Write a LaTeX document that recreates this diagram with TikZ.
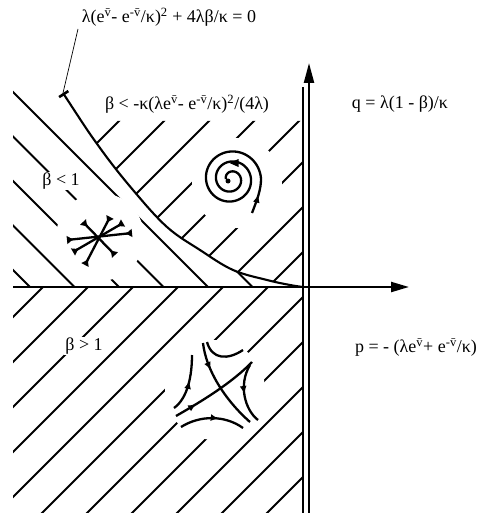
\documentclass[tikz,border=0pt]{standalone}
\usepackage{fontspec}
\setmainfont{Liberation Serif}
\usetikzlibrary{arrows.meta,decorations.markings}
\tikzset{
  hatch/.style={line width=2.1pt},
  axis/.style={line width=2.2pt},
  curvel/.style={line width=2.1pt},
  traj/.style={line width=2.3pt},
  lbl/.style={font=\fontsize{18}{20}\selectfont, inner sep=1pt},
  knock/.style={fill=white, draw=none},
  midarrow/.style={postaction={decorate},decoration={markings,mark=at position #1 with {\arrow{Latex[length=8pt,width=7pt]}}}},
}
\newcommand{\vb}{\textsuperscript{\=v}}
\newcommand{\mvb}{\textsuperscript{-\=v}}
\begin{document}
\begin{tikzpicture}[x=1pt,y=-1pt]
\useasboundingbox (0,0) rectangle (494,513);
\def\bcurve{(63,93) (100,148) (133,190) (167,227) (200,250) (233,270) (267,280) (290,285) (303,287)}
% ---- lower region hatching "/"
\begin{scope}
\clip (13,287) rectangle (303,513);
\foreach \d in {330,375,...,780}{
  \draw[hatch] (\d-600,600) -- (\d,0);
}
\end{scope}
% ---- upper right region hatching "/"
\begin{scope}
\clip (81,121) -- plot[smooth,tension=0.6] coordinates {(81,121) (100,148) (133,190) (167,227) (200,250) (233,270) (267,280) (290,285) (303,287)} -- (303,121) -- cycle;
\foreach \d in {240,285,...,600}{
  \draw[hatch] (\d-600,600) -- (\d,0);
}
\end{scope}
% ---- left region hatching "\"
\begin{scope}
\clip (13,90) -- (63,90) -- plot[smooth,tension=0.6] coordinates \bcurve -- (13,287) -- cycle;
\foreach \c in {79,123.5,168,212.5,257}{
  \draw[hatch] (0,\c) -- (400,400+\c);
}
\clip (225,250) rectangle (303,287);
\draw[hatch] (0,34.5) -- (400,434.5);
\end{scope}
% ---- knockouts
\fill[knock] (237,183) circle (45);
\fill[knock] (100,237) circle (44);
\fill[knock] (215,390) ellipse (50 and 50);
% ---- labels
\node[lbl] (top) at (169,17) {λ(e\vb- e\mvb/κ)\textsuperscript{2} + 4λβ/κ = 0};
\node[lbl] (bl) at (187,104) {β < -κ(λe\vb- e\mvb/κ)\textsuperscript{2}/(4λ)};
\node[lbl] (ql) at (400,104) {q = λ(1 - β)/κ};
\node[lbl,fill=white] (b1) at (61,181) {β < 1};
\node[lbl,fill=white] (b2) at (84,346) {β > 1};
\node[lbl] (pl) at (416,348) {p = - (λe\vb+ e\mvb/κ)};
% ---- boundary curve
\coordinate (cs) at (63,93);
\draw[curvel,{Bar[width=11pt,line width=2.6pt]}-] plot[smooth,tension=0.6] coordinates \bcurve;
\draw[line width=0.7pt] (78,29) -- (cs);
% ---- axes
\coordinate (o) at (13,287);
\coordinate (px) at (409,287);
\coordinate (qb) at (309,513);
\coordinate (qt) at (309,63);
\draw[axis,-{Triangle[length=18pt,width=10pt]}] (o) -- (px);
\draw[axis,-{Triangle[length=20pt,width=10pt]}] (qb) -- (qt);
\draw[axis] (303,513) -- (303,87);
% ---- spiral
\draw[traj] plot[domain=0:900,samples=220,smooth] ({231+(30-0.0278*\x)*cos(\x)},{179-(30-0.0278*\x)*sin(\x)});
\draw[traj,midarrow=0.55] (252,213) .. controls (257,200) and (261,190) .. (261,179);
\fill (228,181) circle (2.5);
\fill[shift={(234,163)}] (4.5,-4) -- (-4.5,0) -- (4.5,4) -- cycle;
% ---- star node
\foreach \a/\b in {{(83,222)}/{(115,255)},{(110,217)}/{(85,265)},{(123,223)}/{(73,252)},{(132,233)}/{(67,240)}}{
  \draw[traj,{Latex[reversed,length=7pt,width=9pt]}-{Latex[reversed,length=7pt,width=9pt]}] \a -- \b;
}
% ---- saddle
\draw[traj,midarrow=0.3] (203,343) .. controls (206,370) and (225,400) .. (250,422);
\draw[traj,midarrow=0.25] (176,416) .. controls (195,405) and (230,385) .. (252,362);
\draw[traj,midarrow=0.55] (174,408) .. controls (188,398) and (192,375) .. (192,355);
\draw[traj,midarrow=0.6] (181,427) .. controls (200,415) and (225,415) .. (243,428);
\draw[traj,midarrow=0.5] (250,365) .. controls (238,385) and (245,410) .. (258,420);
\draw[traj] (207,342) .. controls (212,360) and (228,360) .. (243,350);
\end{tikzpicture}
\end{document}
